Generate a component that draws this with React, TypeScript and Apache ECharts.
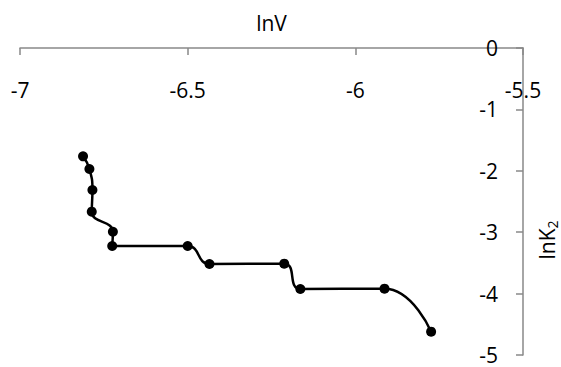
import React, { useEffect, useRef } from "react";
import * as echarts from "echarts";

const lnV = [-6.812, -6.793, -6.784, -6.786, -6.723, -6.725, -6.5, -6.435, -6.212, -6.164, -5.913, -5.774];
const lnK2 = [-1.764, -1.971, -2.313, -2.666, -2.992, -3.225, -3.225, -3.518, -3.513, -3.925, -3.92, -4.62];

export default function App() {
  const ref = useRef<HTMLDivElement>(null);
  useEffect(() => {
    const chart = echarts.init(ref.current!, null, { renderer: "svg" });
    const font = "Open Sans";
    chart.setOption({
      animation: false,
      grid: { left: 20, right: 38, top: 48, bottom: 12, containLabel: false },
      xAxis: {
        type: "value",
        position: "top",
        min: -7,
        max: -5.5,
        interval: 0.5,
        name: "lnV",
        nameLocation: "middle",
        nameGap: 15,
        nameTextStyle: { fontFamily: font, fontSize: 21, color: "#000" },
        axisLine: { show: true, onZero: false, lineStyle: { color: "#898989", width: 1.5 } },
        axisTick: { show: true, inside: true, length: 7, lineStyle: { color: "#898989", width: 1.5 } },
        axisLabel: { inside: true, margin: 31, fontFamily: font, fontSize: 21, color: "#000", formatter: (v: number) => String(v) },
        splitLine: { show: false },
      },
      yAxis: {
        type: "value",
        position: "right",
        min: -5,
        max: 0,
        interval: 1,
        axisLine: { show: true, onZero: false, lineStyle: { color: "#898989", width: 1.5 } },
        axisTick: { show: true, inside: true, length: 7, lineStyle: { color: "#898989", width: 1.5 } },
        axisLabel: { inside: true, margin: 25, fontFamily: font, fontSize: 21, color: "#000", lineHeight: 20 },
        splitLine: { show: false },
      },
      graphic: [
        {
          type: "text",
          x: 547,
          y: 240,
          rotation: Math.PI / 2,
          style: {
            text: "{a|lnK}{b|2}",
            fill: "#000",
            align: "center",
            verticalAlign: "middle",
            rich: {
              a: { fontFamily: font, fontSize: 21, fill: "#000" },
              b: { fontFamily: font, fontSize: 14, fill: "#000", padding: [10, 0, 0, 0] },
            },
          },
        },
      ],
      series: [
        {
          type: "line",
          data: lnV.map((x, i) => [x, lnK2[i]]),
          smooth: 0.5,
          symbol: "circle",
          symbolSize: 10,
          lineStyle: { color: "#000", width: 2.5 },
          itemStyle: { color: "#000" },
        },
      ],
    });
    return () => chart.dispose();
  }, []);
  return <div ref={ref} style={{ position: "absolute", left: 0, top: 0, width: 561, height: 367 }} />;
}
